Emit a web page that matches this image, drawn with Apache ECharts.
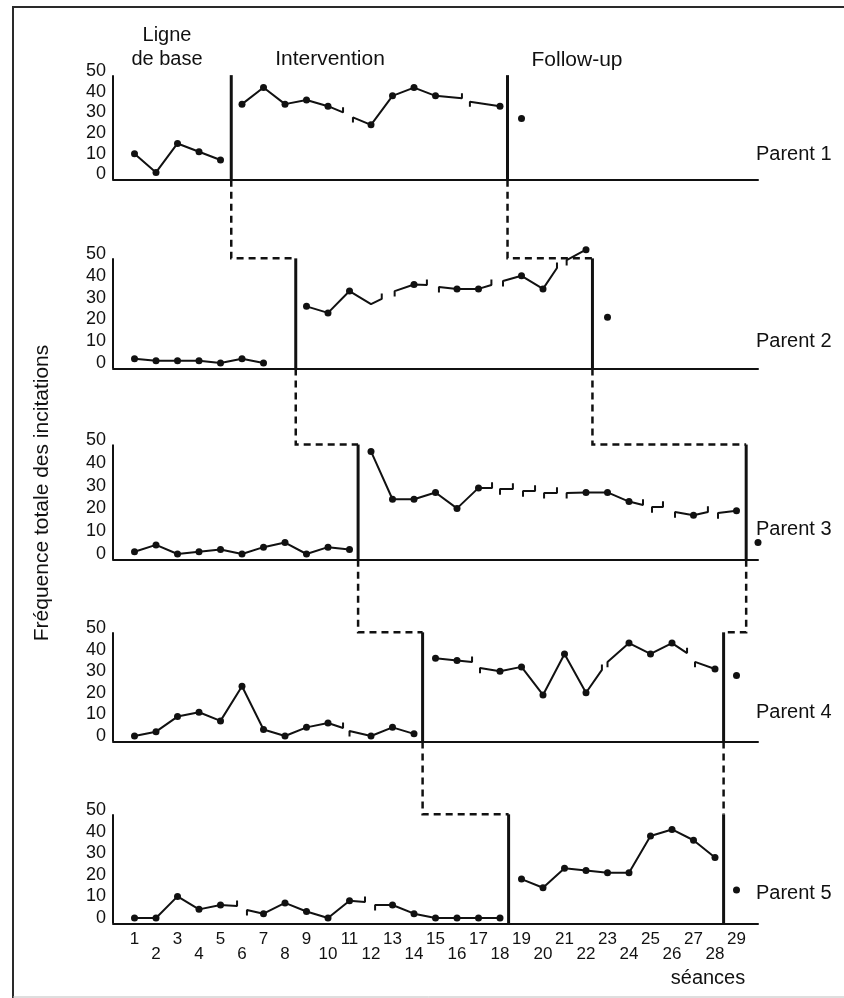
<!DOCTYPE html>
<html><head><meta charset="utf-8">
<script src="https://cdn.jsdelivr.net/npm/echarts@6/dist/echarts.min.js"></script>
<style>html,body{margin:0;padding:0;background:#fff}#c{width:844px;height:998px}</style>
</head><body><div id="c"></div>
<script>
// ---------- data ----------
const sessionTicks = [1,2,3,4,5,6,7,8,9,10,11,12,13,14,15,16,17,18,19,20,21,22,23,24,25,26,27,28,29];
const yTicks = [0,10,20,30,40,50];
const parentNames = ['Parent 1','Parent 2','Parent 3','Parent 4','Parent 5'];
const phaseTitles = ['Ligne', 'de base', 'Intervention', 'Follow-up'];
const yTitle = 'Fréquence totale des incitations';
const xTitle = 'séances';

// Parent 1
const p1Sessions = [1,2,3,4,5, 6,7,8,9,10,12,13,14,15,18, 19];
const p1Values   = [10,1,15,11,7, 34,42,34,36,33,24,38,42,38,33, 27];
const p1Stubs    = [[10.7,30,'end'],[11.16,27.6,'start'],[16.23,36.8,'end'],[16.6,35.2,'start']];
const p1Hidden   = [];
// Parent 2
const p2Sessions = [1,2,3,4,5,6,7, 9,10,11,12,14,16,17,19,20,22, 23];
const p2Values   = [2,1,1,1,0,2,0, 26,23,33,27,36,34,34,40,34,52, 21];
const p2Stubs    = [[12.5,29.4,'end'],[13.1,33,'start'],[14.6,35.8,'end'],[15.16,34.9,'start'],
                    [17.6,35.8,'end'],[18.14,37.6,'start'],[20.65,43.6,'end'],[21.1,47.2,'start']];
const p2Hidden   = [12];
// Parent 3
const p3Sessions = [1,2,3,4,5,6,7,8,9,10,11, 12,13,14,15,16,17,22,23,24,27,29, 30];
const p3Values   = [1,4,0,1,2,0,3,5,0,3,2, 45,24,24,27,20,29,27,27,23,17,19, 5];
const p3Stubs    = [[17.63,29,'end'],[18.0,28.5,'start'],[18.6,28.5,'end'],[19.07,27.6,'start'],
                    [19.63,27.6,'end'],[20.05,26.8,'start'],[20.65,26.8,'end'],[21.1,26.8,'start'],
                    [24.65,21.5,'end'],[25.07,20.6,'start'],[25.58,20.6,'end'],[26.14,18.4,'start'],
                    [27.67,18.4,'end'],[28.14,18,'start']];
const p3Hidden   = [];
// Parent 4
const p4Sessions = [1,2,3,4,5,6,7,8,9,10,12,13,14, 15,16,18,19,20,21,22,24,25,26,28, 29];
const p4Values   = [0,2,9,11,7,23,3,0,4,6,0,4,1, 36,35,30,32,19,38,20,43,38,43,31, 28];
const p4Stubs    = [[10.7,3.7,'end'],[11.0,2.3,'start'],[16.7,34.3,'end'],[17.07,31.5,'start'],
                    [22.74,30.6,'end'],[23.0,34.3,'start'],[26.7,38.4,'end'],[27.07,34.3,'start']];
const p4Hidden   = [];
// Parent 5
const p5Sessions = [1,2,3,4,5,7,8,9,10,11,13,14,15,16,17,18, 19,20,21,22,23,24,25,26,27,28, 29];
const p5Values   = [0,0,10,4,6,2,7,3,0,8,6,2,0,0,0,0, 18,14,23,22,21,21,38,41,36,28, 13];
const p5Stubs    = [[5.77,5.6,'end'],[6.23,3.7,'start'],[11.72,7.4,'end'],[12.19,6,'start']];
const p5Hidden   = [];

// phase change positions (session units), per panel
const phaseChange1 = [5.5, 8.5, 11.4, 14.4, 18.4];
const phaseChange2 = [18.35, 22.3, 29.45, 28.4, 28.4];

// ---------- layout / style ----------
const Y_MIN = -2.5, Y_MAX = 50, PHASE_TOP = 48, HOOK = 2.5;
const gridTops    = [71, 254, 440, 628, 810];
const gridHeights = [108.7, 114.5, 119.7, 113.4, 113.4];
const FONT = "'Liberation Sans', Arial, Helvetica, sans-serif";
const INK = '#111';

const panels = [
  [p1Sessions,p1Values,p1Stubs,p1Hidden],
  [p2Sessions,p2Values,p2Stubs,p2Hidden],
  [p3Sessions,p3Values,p3Stubs,p3Hidden],
  [p4Sessions,p4Values,p4Stubs,p4Hidden],
  [p5Sessions,p5Values,p5Stubs,p5Hidden]
];

function buildLine(sessions, values, stubs, hidden, b1, b2) {
  const items = sessions.map((s,i)=>({x:s,y:values[i],kind:'pt'}))
    .concat(stubs.map(st=>({x:st[0],y:st[1],kind:st[2]})));
  items.sort((a,b)=>a.x-b.x);
  const phaseOf = x => x < b1 ? 0 : (x < b2 ? 1 : 2);
  const gap = ['-','-'];
  const data = [];
  let prev = null;
  for (const it of items) {
    const ph = phaseOf(it.x);
    if (prev !== null && ph !== prev) data.push(gap);
    prev = ph;
    if (it.kind === 'pt') {
      data.push(hidden.includes(it.x) ? {value:[it.x,it.y], symbol:'none'} : [it.x,it.y]);
    } else if (it.kind === 'start') {
      data.push(gap);
      data.push({value:[it.x,it.y-HOOK], symbol:'none'});
      data.push({value:[it.x,it.y], symbol:'none'});
    } else {
      data.push({value:[it.x,it.y], symbol:'none'});
      data.push({value:[it.x,it.y+HOOK], symbol:'none'});
      data.push(gap);
    }
  }
  return data;
}

const grids = [], xAxes = [], yAxes = [], series = [];
for (let i = 0; i < 5; i++) {
  grids.push({left:113, right:86, top:gridTops[i], height:gridHeights[i], containLabel:false, outerBoundsMode:'none'});
  const last = i === 4;
  xAxes.push({
    type:'value', gridIndex:i, min:0, max:30, interval:1,
    axisLine:{show:true, onZero:false, lineStyle:{color:INK, width:2}},
    axisTick:{show:false}, splitLine:{show:false},
    axisLabel:{
      show:last, margin:8, fontSize:17, lineHeight:15, color:'#111', fontFamily:FONT,
      formatter: v => (sessionTicks.indexOf(v) < 0 ? '' : (v % 2 === 1 ? String(v) : '\n' + v))
    }
  });
  yAxes.push({
    type:'value', gridIndex:i, min:Y_MIN, max:Y_MAX,
    axisLine:{show:false}, axisTick:{show:false}, splitLine:{show:false},
    axisLabel:{show:true, customValues:yTicks, margin:7, fontSize:18, color:'#111', fontFamily:FONT}
  });
  const [s,v,st,h] = panels[i];
  series.push({
    type:'line', xAxisIndex:i, yAxisIndex:i, clip:false, silent:true, animation:false,
    connectNulls:false, symbol:'circle', symbolSize:7,
    itemStyle:{color:INK}, lineStyle:{color:INK, width:2},
    data: buildLine(s, v, st, h, phaseChange1[i], phaseChange2[i])
  });
}

const chart = echarts.init(document.getElementById('c'), null, {renderer:'canvas'});
chart.setOption({
  animation:false, backgroundColor:'#fff',
  grid:grids, xAxis:xAxes, yAxis:yAxes, series:series
});

function px(g, x, y) { return chart.convertToPixel({gridIndex:g}, [x, y]); }

const gfx = [];
function txt(t, x, y, size, align, rot) {
  gfx.push({type:'text', x:x, y:y, rotation:rot||0, silent:true,
    style:{text:t, font: size + 'px ' + FONT, fill:'#111',
      align:align||'center', verticalAlign:'middle', textAlign:align||'center', textVerticalAlign:'middle'}});
}
function line(points, width, dash, color) {
  gfx.push({type:'polyline', silent:true, shape:{points:points},
    style:{stroke:color||INK, lineWidth:width, fill:null, lineDash:dash||null}});
}

// page border of the scan
line([[13,998],[13,7],[844,7]], 2, null, '#2a2a2a');
line([[13,997],[844,997]], 1, null, '#bdbdbd');

// y-axis lines
for (let i = 0; i < 5; i++) line([px(i,0,Y_MIN), px(i,0,PHASE_TOP)], 2);

// phase change lines
[phaseChange1, phaseChange2].forEach(arr => {
  for (let i = 0; i < 5; i++) {
    const top = px(i, arr[i], PHASE_TOP), bot = px(i, arr[i], Y_MIN);
    line([top, bot], 3);
    if (i > 0) {
      line([px(i-1, arr[i-1], Y_MIN), px(i, arr[i-1], PHASE_TOP), top], 2.5, [7,5]);
    }
  }
});

// texts
txt(phaseTitles[0], 167, 35, 20);
txt(phaseTitles[1], 167, 59, 20);
txt(phaseTitles[2], 330, 59, 21);
txt(phaseTitles[3], 577, 60, 21);
const parentY = [154, 341, 529, 712, 893];
parentNames.forEach((n,i) => txt(n, 756, parentY[i], 20, 'left'));
txt(xTitle, 708, 978, 20);
txt(yTitle, 42, 493, 21, 'center', Math.PI/2);

chart.setOption({graphic:{elements:gfx}});
</script></body></html>
